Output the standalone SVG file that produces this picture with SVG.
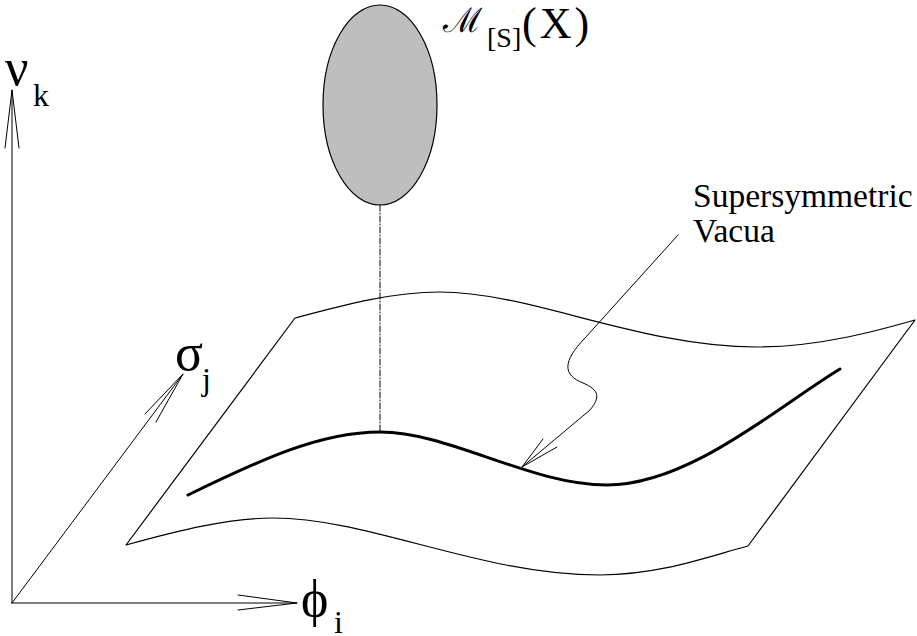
<svg xmlns="http://www.w3.org/2000/svg" width="917" height="636" viewBox="0 0 917 636">
<style>
.ln{fill:none;stroke:#000;stroke-width:1.2;stroke-linecap:round;stroke-linejoin:round}
.thin{fill:none;stroke:#000;stroke-width:1;stroke-linecap:round}
.thick{fill:none;stroke:#000;stroke-width:3;stroke-linecap:round}
</style>
<rect width="917" height="636" fill="#fff"/>
<g id="axes">
<path class="thin" d="M12,603 L12,90 M5,148 L12,90 L19,148"/>
<path class="thin" d="M12,603 L297,603 M238,595 L297,603 L238,610"/>
<path class="thin" d="M12,603 L183,374 M145,414 L183,374 L156,422"/>
</g>
<g id="axis-labels" font-family="Liberation Serif, DejaVu Serif, serif" fill="#000">
<text x="5" y="85" font-size="52">ν</text>
<text x="33" y="106" font-size="32">k</text>
<text x="175" y="370" font-size="52">σ</text>
<text x="202" y="390" font-size="32">j</text>
<text x="301" y="616" font-size="52">ϕ</text>
<text x="334" y="633" font-size="32">i</text>
</g>
<g id="moduli-space" font-family="Liberation Serif, DejaVu Serif, serif" fill="#000">
<ellipse cx="380" cy="105" rx="57" ry="100" fill="#bebebe" stroke="#000" stroke-width="1.2"/>
<text x="443" y="32" font-size="34">ℳ</text>
<text x="487" y="47" font-size="28">[S]</text>
<text x="522" y="38" font-size="44" letter-spacing="3">(X)</text>
</g>
<g id="surface">
<path class="ln" d="M295,318 C340,306 390,292 440,292 C530,292 640,347 757,347 C820,347 880,330 915,320 L748,546 C710,556 660,575 600,575 C480,575 370,518 273,518 C230,518 180,530 126,545 Z"/>
</g>
<g id="vacua-curve">
<path class="thick" d="M188,495 C260,460 320,432 380,432 C450,432 530,485 607,485 C690,485 780,405 840,369"/>
</g>
<g id="vacua-label" font-family="Liberation Serif, DejaVu Serif, serif" fill="#000">
<text x="693" y="207" font-size="33.5">Supersymmetric</text>
<text x="693" y="242" font-size="33.5">Vacua</text>
</g>
<g id="connectors">
<path class="thin" stroke-dasharray="6 2 1 2" d="M380,205 L380,432"/>
<path class="thin" d="M678,235 L585,338 C562,362 563,375 583,383 C600,390 600,398 590,410 L522,467 M543,439 L522,467 L557,447"/>
</g>
</svg>
